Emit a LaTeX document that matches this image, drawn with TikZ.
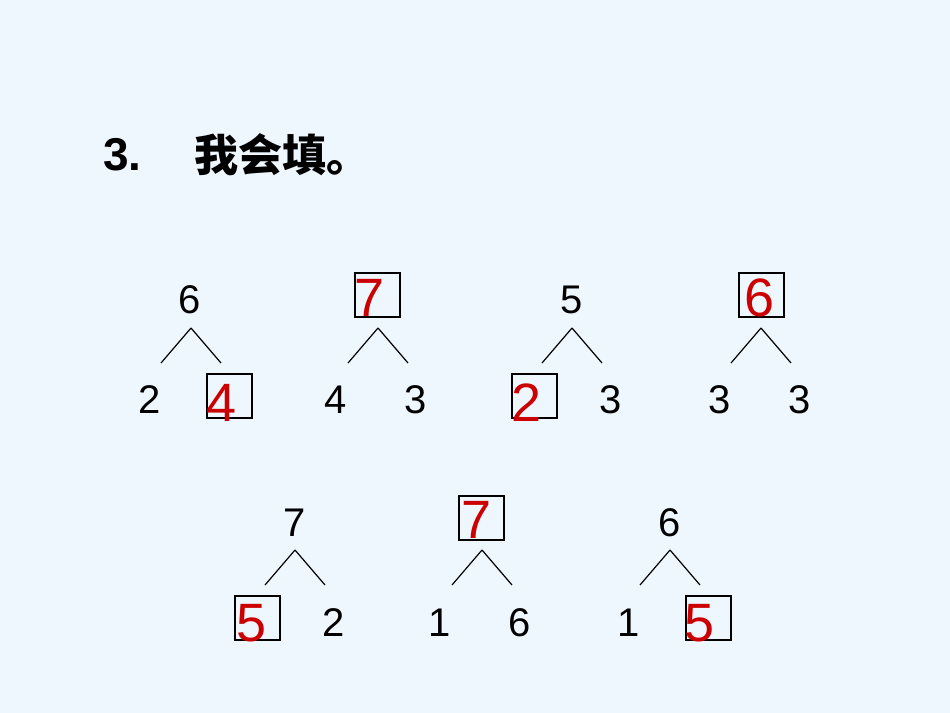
\documentclass[tikz,border=0pt]{standalone}
\usepackage{fontspec}
\setmainfont{Liberation Sans}
\newfontfamily\cjk{Noto Sans CJK SC}
\begin{document}
\begin{tikzpicture}[x=0.5pt,y=-0.5pt,
  num/.style={font=\fontsize{20}{20}\selectfont,inner sep=0pt},
  red/.style={font=\fontsize{27}{27}\selectfont,text=red!80!black,inner sep=0pt},
  sbox/.style={draw,line width=0.6pt,minimum width=22.5pt,minimum height=22pt,inner sep=0pt},
  br/.style={line width=0.6pt}]
\fill[fill={rgb,255:red,239;green,247;blue,254}] (0,0) rectangle (950,713);
\useasboundingbox (0,0) rectangle (950,713);
\node[anchor=west,inner sep=0pt,font=\fontsize{23}{23}\selectfont\bfseries] (t3) at (103,155) {3.};
\node[anchor=west,inner sep=0pt,font=\fontsize{22}{22}\selectfont\cjk\bfseries] (tt) at (194,155) {我会填。};
% tree 1
\node[num] (a1) at (190,300) {6};
\coordinate (p1) at (191,328);
\draw[br] (p1) -- (161,363) (p1) -- (221,363);
\node[num] (b1) at (150,400) {2};
\node[sbox] (c1) at (229.5,396) {};
\node[red] (r1) at (222,403) {4};
% tree 2
\node[sbox] (a2) at (377.5,295) {};
\node[red] (r2) at (370,298) {7};
\coordinate (p2) at (378,328);
\draw[br] (p2) -- (348,363) (p2) -- (408,363);
\node[num] (b2) at (336,400) {4};
\node[num] (c2) at (416,400) {3};
% tree 3
\node[num] (a3) at (572,300) {5};
\coordinate (p3) at (572,328);
\draw[br] (p3) -- (542,363) (p3) -- (602,363);
\node[sbox] (b3) at (534.5,396) {};
\node[red] (r3) at (527,403) {2};
\node[num] (c3) at (611,400) {3};
% tree 4
\node[sbox] (a4) at (761.5,295) {};
\node[red] (r4) at (760,298) {6};
\coordinate (p4) at (761,328);
\draw[br] (p4) -- (731,363) (p4) -- (791,363);
\node[num] (b4) at (720,400) {3};
\node[num] (c4) at (800,400) {3};
% tree 5
\node[num] (a5) at (295,523) {7};
\coordinate (p5) at (295,550);
\draw[br] (p5) -- (265,585) (p5) -- (325,585);
\node[sbox] (b5) at (257.5,618) {};
\node[red] (r5) at (252,623) {5};
\node[num] (c5) at (334,623) {2};
% tree 6
\node[sbox] (a6) at (481.5,518) {};
\node[red] (r6) at (477,520) {7};
\coordinate (p6) at (482,550);
\draw[br] (p6) -- (452,585) (p6) -- (512,585);
\node[num] (b6) at (440,623) {1};
\node[num] (c6) at (520,623) {6};
% tree 7
\node[num] (a7) at (670,523) {6};
\coordinate (p7) at (670,550);
\draw[br] (p7) -- (640,585) (p7) -- (700,585);
\node[num] (b7) at (629,623) {1};
\node[sbox] (c7) at (708.5,618) {};
\node[red] (r7) at (700,623) {5};
\end{tikzpicture}
\end{document}
